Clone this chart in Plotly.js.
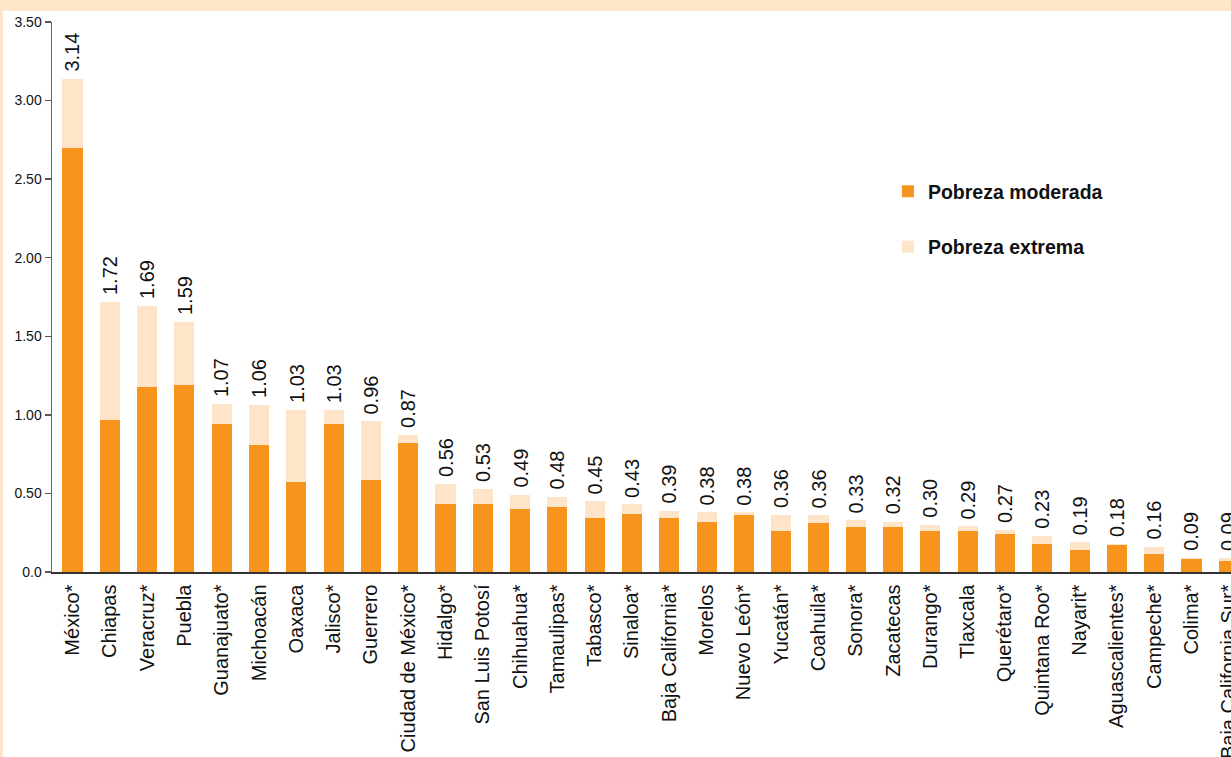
<!DOCTYPE html>
<html>
<head>
<meta charset="utf-8">
<script src="https://cdn.plot.ly/plotly-3.0.1.min.js"></script>
<style>
  html, body { margin: 0; padding: 0; background: #FFE6CB; width: 1231px; height: 757px; overflow: hidden; }
  #chart { position: absolute; left: 3px; top: 11px; width: 1228px; height: 746px; background: #ffffff; }
</style>
</head>
<body>
<div id="chart"></div>
<script>
const states = ["México*", "Chiapas", "Veracruz*", "Puebla", "Guanajuato*", "Michoacán", "Oaxaca", "Jalisco*", "Guerrero", "Ciudad de México*", "Hidalgo*", "San Luis Potosí", "Chihuahua*", "Tamaulipas*", "Tabasco*", "Sinaloa*", "Baja California*", "Morelos", "Nuevo León*", "Yucatán*", "Coahuila*", "Sonora*", "Zacatecas", "Durango*", "Tlaxcala", "Querétaro*", "Quintana Roo*", "Nayarit*", "Aguascalientes*", "Campeche*", "Colima*", "Baja California Sur*"];
const totals = [3.14, 1.72, 1.69, 1.59, 1.07, 1.06, 1.03, 1.03, 0.96, 0.87, 0.56, 0.53, 0.49, 0.48, 0.45, 0.43, 0.39, 0.38, 0.38, 0.36, 0.36, 0.33, 0.32, 0.30, 0.29, 0.27, 0.23, 0.19, 0.18, 0.16, 0.09, 0.09];
const moderada = [2.70, 0.97, 1.18, 1.19, 0.94, 0.81, 0.57, 0.94, 0.585, 0.82, 0.43, 0.43, 0.40, 0.415, 0.345, 0.37, 0.345, 0.32, 0.36, 0.26, 0.31, 0.285, 0.285, 0.26, 0.26, 0.24, 0.18, 0.14, 0.175, 0.115, 0.08, 0.07];
const extrema = totals.map((t, i) => +(t - moderada[i]).toFixed(3));
const yTickVals = [0, 0.5, 1, 1.5, 2, 2.5, 3, 3.5];
const yTickText = ["0.0", "0.50", "1.00", "1.50", "2.00", "2.50", "3.00", "3.50"];

const SANS = '"Liberation Sans", Arial, sans-serif';

const traces = [
  { type: 'bar', name: 'Pobreza moderada', x: states, y: moderada, marker: { color: '#F7941D' }, legendgroup: 'a', hoverinfo: 'x+y' },
  { type: 'bar', name: 'Pobreza extrema', x: states, y: extrema, marker: { color: '#FEE4C9' }, legendgroup: 'b', hoverinfo: 'x+y' }
];

const annotations = states.map((s, i) => ({
  x: s, y: totals[i], xref: 'x', yref: 'y',
  text: totals[i].toFixed(2), textangle: -90,
  showarrow: false, yanchor: 'bottom', xanchor: 'center', yshift: 5,
  font: { family: SANS, size: 20, color: '#111' }
}));

const layout = {
  width: 1228, height: 746,
  margin: { l: 49, r: 0, t: 11, b: 185, pad: 0 },
  paper_bgcolor: '#ffffff', plot_bgcolor: '#ffffff',
  barmode: 'stack', bargap: 0.46,
  showlegend: true,
  legend: {
    x: 0.709, y: 0.727, xanchor: 'left', yanchor: 'top',
    traceorder: 'grouped', tracegroupgap: 27,
    font: { family: SANS, size: 19.5, color: '#111', weight: 'bold' },
    bgcolor: 'rgba(0,0,0,0)'
  },
  xaxis: {
    type: 'category', range: [-0.55, 31.06],
    showline: true, linecolor: '#333', linewidth: 1.5,
    ticks: '', tickangle: -90, ticklabelstandoff: 3,
    tickfont: { family: SANS, size: 20, color: '#111' },
    showgrid: false, zeroline: false, fixedrange: true
  },
  yaxis: {
    range: [0, 3.5], tickvals: yTickVals, ticktext: yTickText,
    showline: true, linecolor: '#666', linewidth: 1.5,
    ticks: 'outside', ticklen: 6, tickcolor: '#555', tickwidth: 1.3,
    tickfont: { family: SANS, size: 14, color: '#111' },
    showgrid: false, zeroline: false, fixedrange: true
  },
  annotations: annotations
};

Plotly.newPlot('chart', traces, layout, { displayModeBar: false, staticPlot: true });
</script>
</body>
</html>
